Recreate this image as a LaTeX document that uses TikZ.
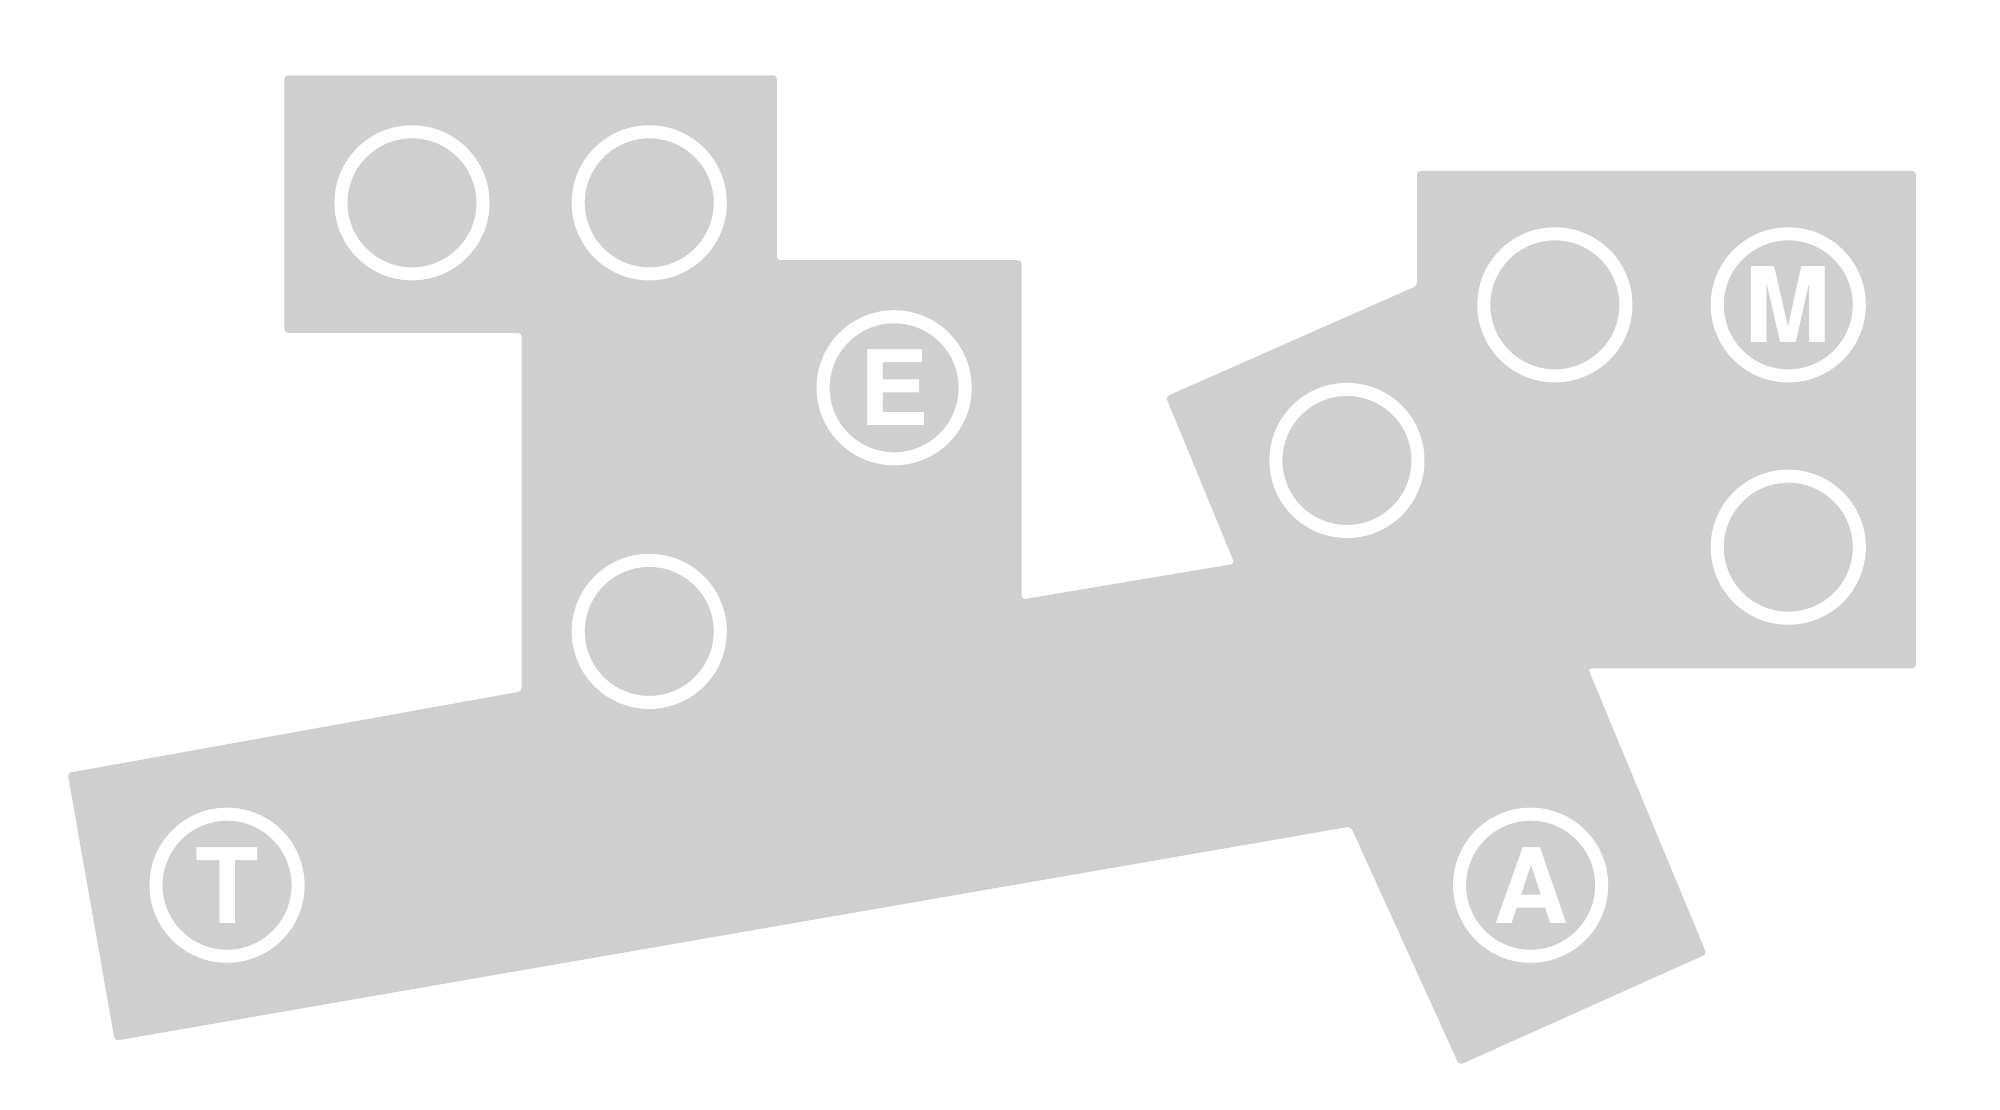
\documentclass[tikz,border=0pt]{standalone}
\usepackage{fontspec}
\setmainfont{TeX Gyre Heros}
\usepackage{tikz}
\usetikzlibrary{positioning, calc}

\definecolor{slabgray}{RGB}{207,207,207}

\begin{document}
\begin{tikzpicture}[x=0.01cm, y=-0.01cm,
    slab/.style={fill=slabgray, rounded corners=0.8pt},
    ring/.style={circle, draw=white, line width=10.2*0.01cm, minimum size=111.4*0.01cm, inner sep=0pt,
      text=white, font=\bfseries\fontsize{23.2}{28}\selectfont},]

% Page frame
\useasboundingbox (0,0) rectangle (1568,870.2);

% Grey outline
\fill[slab] (223,59) -- (609,59) -- (609,204) -- (801,204) -- (801,470)
  -- (968,442) -- (914,311) -- (1111,224) -- (1111,134) -- (1502,134)
  -- (1502,524) -- (1245,524) -- (1338,748) -- (1144,835) -- (1059,648)
  -- (90,816) -- (53,606) -- (409,542) -- (409,261) -- (223,261) -- cycle;

% Rings, upper left block
\node[ring] (o1) at (323,159) {};
\node[ring] (o2) at (509,159) {};
\node[ring] (e) at (701,304) {E};
\node[ring] (o3) at (509,495) {};

% Ring on the long bar
\node[ring] (t) at (178,694) {T};

% Rings, right block
\node[ring] (o4) at (1056,361) {};
\node[ring] (o5) at (1219,239) {};
\node[ring] (m) at (1402,239) {M};
\node[ring] (o6) at (1402,429) {};
\node[ring] (a) at (1200,694) {A};

\end{tikzpicture}
\end{document}
